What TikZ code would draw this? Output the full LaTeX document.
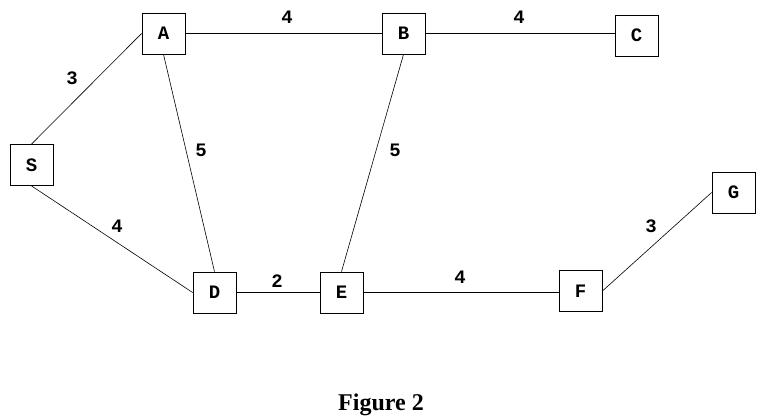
\documentclass[tikz,border=0pt]{standalone}
\usepackage{fontspec}
\setmainfont{Liberation Serif}
\newfontfamily\monof{Liberation Mono}
\begin{document}
\begin{tikzpicture}[x=1pt,y=-1pt,
  vbox/.style={draw,line width=0.8pt,minimum width=43pt,minimum height=41pt,inner sep=0pt,font=\monof\bfseries\fontsize{19}{19}\selectfont},
  edge/.style={line width=0.6pt},
  wlab/.style={font=\monof\bfseries\fontsize{19}{19}\selectfont,inner sep=0pt}]
\useasboundingbox[fill=white] (0,0) rectangle (762,418);
\node[vbox] (A) at (163.5,33.5) {A};
\node[vbox] (B) at (403.5,33.5) {B};
\node[vbox] (C) at (636.5,35.5) {C};
\node[vbox] (S) at (31.5,165) {S};
\node[vbox] (D) at (214.5,292.5) {D};
\node[vbox] (E) at (341.5,292.5) {E};
\node[vbox] (F) at (580.5,291) {F};
\node[vbox] (G) at (733.5,192.5) {G};
\draw[edge] (S.north) -- (A.west);
\draw[edge] (A) -- (B);
\draw[edge] (B.east) -- (C.west |- B.east);
\draw[edge] (A.south) -- (D.north);
\draw[edge] (B.south) -- (E.north);
\draw[edge] (S.south) -- (D.west);
\draw[edge] (D) -- (E);
\draw[edge] (E.east) -- (F.west |- E.east);
\draw[edge] (F.east) -- (G.west);
\node[wlab] (l1) at (72,78) {3};
\node[wlab] (l2) at (287,17) {4};
\node[wlab] (l3) at (519,17) {4};
\node[wlab] (l4) at (201,150) {5};
\node[wlab] (l5) at (395,150) {5};
\node[wlab] (l6) at (117,226) {4};
\node[wlab] (l7) at (277,281) {2};
\node[wlab] (l8) at (460,277) {4};
\node[wlab] (l9) at (651,226) {3};
\node[font=\bfseries\fontsize{24}{24}\selectfont,inner sep=0pt] (cap) at (381,405) {Figure 2};
\end{tikzpicture}
\end{document}
